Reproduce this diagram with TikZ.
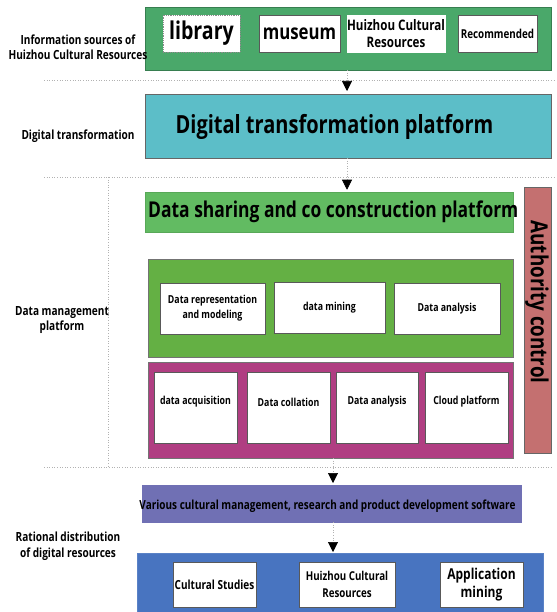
\documentclass[tikz,border=0pt]{standalone}
\usepackage{fontspec}
\setmainfont{Open Sans}[FakeStretch=0.8]
\usetikzlibrary{arrows.meta}
\definecolor{cgA}{HTML}{4AA86A}
\definecolor{cCy}{HTML}{5CBEC8}
\definecolor{cgB}{HTML}{62BB62}
\definecolor{cgC}{HTML}{64B044}
\definecolor{cMg}{HTML}{B03E82}
\definecolor{cAu}{HTML}{C47070}
\definecolor{cPu}{HTML}{7070B4}
\definecolor{cBl}{HTML}{4874C0}
\tikzset{
  x=1pt, y=-1pt,
  panel/.style={rectangle, inner sep=0pt, outer sep=0pt, draw=#1!75!black, fill=#1, line width=0.8pt},
  wbox/.style={rectangle, inner sep=0pt, outer sep=0pt, draw=black!65, fill=white, line width=0.8pt, align=center, font=\bfseries},
  lbl/.style={align=center, font=\bfseries\fontsize{12.6}{15.5}\selectfont, inner sep=0pt},
  sep/.style={draw=black!30, dotted, line width=0.6pt},
  conn/.style={draw=black!30, dotted, line width=0.6pt, -{Triangle[width=10pt,length=10pt,black]}},
  mtxt/.style={font=\bfseries\fontsize{11}{13}\selectfont, inner sep=0pt},
}
\begin{document}
\begin{tikzpicture}
\useasboundingbox (0,0) rectangle (556,612);
% separators
\coordinate (s1l) at (44,80); \coordinate (s1r) at (556,80);
\coordinate (s2l) at (44,177); \coordinate (s2r) at (556,177);
\coordinate (s3l) at (44,467); \coordinate (s3r) at (552,467);
\draw[sep] (s1l) -- (s1r);
\draw[sep] (s2l) -- (s2r);
\draw[sep] (s3l) -- (s3r);
\coordinate (vt) at (108,177); \coordinate (vb) at (108,467);
\draw[sep] (vt) -- (vb);

% row 1
\node[panel=cgA, minimum width=406pt, minimum height=63pt] (G1) at (348,38.5) {};
\node[wbox, draw=black!45, densely dotted, minimum width=77pt, minimum height=37pt, font=\bfseries\fontsize{24.5}{26}\selectfont] (lib) at (201.5,33.5) {library};
\node[wbox, minimum width=81pt, minimum height=37pt, font=\bfseries\fontsize{21}{23}\selectfont] (mus) at (299.5,33.5) {museum};
\node[wbox, draw=white, minimum width=92pt, minimum height=37pt, font=\bfseries\fontsize{14.5}{17}\selectfont] (hui) at (396,33.5) {Huizhou Cultural\\Resources};
\node[wbox, minimum width=79pt, minimum height=37pt, font=\bfseries\fontsize{12.3}{14}\selectfont] (rec) at (497.5,33.5) {Recommended};
\node[lbl] (l1) at (78,47) {Information sources of\\Huizhou Cultural Resources};

% row 2
\node[panel=cCy, draw=black!60, minimum width=406pt, minimum height=64pt] (dtp) at (348,126) {};
\node[font=\bfseries\fontsize{25}{27}\selectfont, inner sep=0pt] (dtpt) at (334.5,127) {Digital transformation platform};
\node[lbl] (l2) at (78,136) {Digital transformation};

% data management
\node[rectangle, fill=cgB, draw=cgB!90!black, line width=0.5pt, inner sep=0pt, minimum width=368pt, minimum height=40pt] (G2) at (329,212) {};
\node[font=\bfseries\fontsize{21.8}{23}\selectfont, inner sep=0pt, anchor=west] (G2t) at (148,212) {Data sharing and co construction platform};
\node[panel=cAu, draw=black!60, minimum width=27pt, minimum height=266pt] (auth) at (537.5,320) {};
\node[font=\bfseries\fontsize{23.5}{25}\selectfont, rotate=-90, inner sep=0pt] (autht) at (537,302) {Authority control};

\node[panel=cgC, draw=black!55, minimum width=365pt, minimum height=98pt] (G3) at (330.5,308) {};
\node[wbox, minimum width=105pt, minimum height=51pt, font=\bfseries\fontsize{11}{15}\selectfont] (drm) at (212.5,308.5) {Data representation\\and modeling};
\node[wbox, minimum width=111pt, minimum height=51pt, font=\bfseries\fontsize{11}{13}\selectfont] (dmi) at (329.5,307.5) {data mining};
\node[wbox, minimum width=106pt, minimum height=51pt, font=\bfseries\fontsize{11}{13}\selectfont] (dan1) at (447,308.5) {Data analysis};

\node[panel=cMg, draw=black!55, minimum width=365pt, minimum height=96pt] (Mg) at (330.5,410) {};
\node[wbox, minimum width=83pt, minimum height=71pt] (dac) at (195.5,407.5) {};
\node[wbox, minimum width=83pt, minimum height=71pt] (dco) at (288.5,407.5) {};
\node[wbox, minimum width=82pt, minimum height=71pt] (dan2) at (377,407.5) {};
\node[wbox, minimum width=83pt, minimum height=71pt] (cld) at (466.5,407.5) {};
\node[mtxt] (dact) at (195.5,402) {data acquisition};
\node[mtxt] (dcot) at (288.5,402) {Data collation};
\node[mtxt] (dan2t) at (377,402) {Data analysis};
\node[mtxt] (cldt) at (466.5,402) {Cloud platform};
\node[lbl] (l3) at (62,320) {Data management\\platform};

% bottom
\node[panel=cPu, draw=cPu, minimum width=379pt, minimum height=37pt] (Pu) at (331.5,503.5) {};
\node[font=\bfseries\fontsize{12.5}{14}\selectfont, inner sep=0pt] (Put) at (327.5,506) {Various cultural management, research and product development software};
\node[panel=cBl, draw=cBl!90!white, minimum width=406pt, minimum height=60pt] (Bl) at (340,583) {};
\node[wbox, minimum width=83pt, minimum height=45pt, font=\bfseries\fontsize{12.5}{15}\selectfont] (cs) at (214.5,584.5) {Cultural Studies};
\node[wbox, minimum width=96pt, minimum height=45pt, font=\bfseries\fontsize{12.2}{16.5}\selectfont] (hcr) at (347,584.5) {Huizhou Cultural\\Resources};
\node[wbox, minimum width=83pt, minimum height=45pt, font=\bfseries\fontsize{15}{18}\selectfont] (am) at (481.5,584.5) {Application\\mining};
\node[lbl] (l4) at (68,546) {Rational distribution\\of digital resources};

% arrows
\coordinate (xa) at (347,0);
\coordinate (xb) at (333,0);
\draw[conn, shorten >=3pt] (G1.south -| xa) -- (dtp.north -| xa);
\draw[conn, shorten >=2pt] (dtp.south -| xa) -- (G2.north -| xa);
\draw[conn, shorten >=2pt] (Mg.south -| xb) -- (Pu.north -| xb);
\draw[conn, shorten >=1pt] (Pu.south -| xb) -- (Bl.north -| xb);
\end{tikzpicture}
\end{document}
